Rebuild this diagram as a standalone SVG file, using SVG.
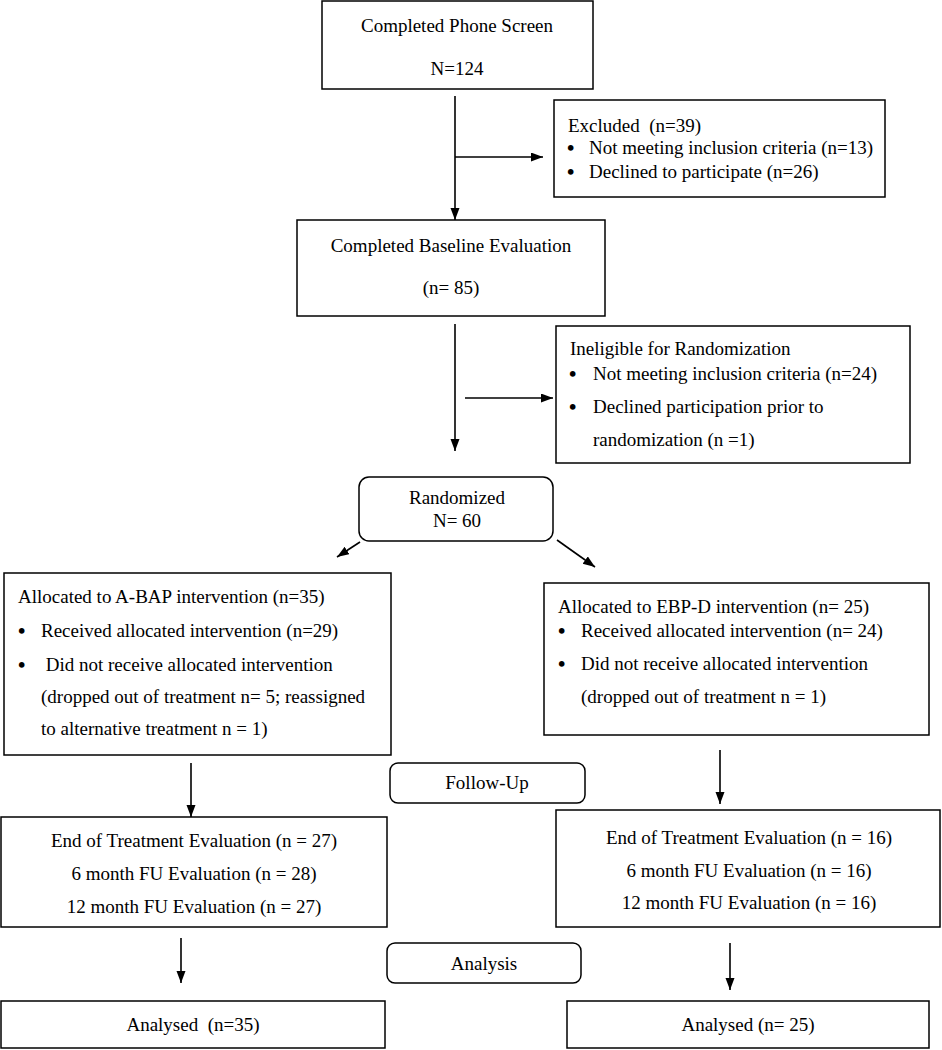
<svg xmlns="http://www.w3.org/2000/svg" width="942" height="1050" viewBox="0 0 942 1050">
<defs>
<style>
.box{fill:#fff;stroke:#000;stroke-width:1.5}
.t{font-family:"Liberation Serif","Times New Roman",serif;font-size:19px;fill:#000;white-space:pre}
.b{font-family:"Liberation Serif","Times New Roman",serif;font-size:21px;font-weight:bold;fill:#000}
.c{text-anchor:middle}
.ln{stroke:#000;stroke-width:1.6;fill:none;marker-end:url(#ah)}
</style>
<marker id="ah" markerUnits="userSpaceOnUse" markerWidth="12" markerHeight="10" refX="12" refY="4.5" orient="auto">
<path d="M0,0 L12,4.5 L0,9 z" fill="#000"/>
</marker>
</defs>
<rect width="942" height="1050" fill="#fff"/>
<g id="connectors">
<line class="ln" x1="455" y1="96" x2="455" y2="220"/>
<line class="ln" x1="455" y1="157" x2="543" y2="157"/>
<line class="ln" x1="455" y1="324" x2="455" y2="451"/>
<line class="ln" x1="465" y1="398" x2="553" y2="398"/>
<line class="ln" x1="360" y1="542" x2="337" y2="557"/>
<line class="ln" x1="557" y1="540" x2="595" y2="567"/>
<line class="ln" x1="191" y1="763" x2="191" y2="817"/>
<line class="ln" x1="720" y1="750" x2="720" y2="804"/>
<line class="ln" x1="181" y1="938" x2="181" y2="983"/>
<line class="ln" x1="730" y1="943" x2="730" y2="990"/>
</g>
<g id="phone">
<rect class="box" x="322" y="1" width="271" height="88"/>
<text class="t c" x="457" y="32">Completed Phone Screen</text>
<text class="t c" x="457" y="75">N=124</text>
</g>
<g id="excluded">
<rect class="box" x="554" y="100" width="331" height="97"/>
<text class="t" x="568" y="132" xml:space="preserve">Excluded  (n=39)</text>
<text class="b" x="567" y="155">•</text>
<text class="t" x="589" y="154">Not meeting inclusion criteria (n=13)</text>
<text class="b" x="567" y="179">•</text>
<text class="t" x="589" y="178">Declined to participate (n=26)</text>
</g>
<g id="baseline">
<rect class="box" x="297" y="220" width="308" height="96"/>
<text class="t c" x="451" y="252">Completed Baseline Evaluation</text>
<text class="t c" x="451" y="294">(n= 85)</text>
</g>
<g id="ineligible">
<rect class="box" x="556" y="326" width="354" height="137"/>
<text class="t" x="570" y="355">Ineligible for Randomization</text>
<text class="b" x="569" y="381">•</text>
<text class="t" x="593" y="380">Not meeting inclusion criteria (n=24)</text>
<text class="b" x="569" y="414">•</text>
<text class="t" x="593" y="413">Declined participation prior to</text>
<text class="t" x="593" y="446">randomization (n =1)</text>
</g>
<g id="randomized">
<rect class="box" x="359" y="477" width="194" height="64" rx="10"/>
<text class="t c" x="457" y="504">Randomized</text>
<text class="t c" x="457" y="527">N= 60</text>
</g>
<g id="abap">
<rect class="box" x="4" y="573" width="387" height="182"/>
<text class="t" x="18" y="603">Allocated to A-BAP intervention (n=35)</text>
<text class="b" x="18" y="638">•</text>
<text class="t" x="41" y="637">Received allocated intervention (n=29)</text>
<text class="b" x="18" y="672">•</text>
<text class="t" x="41" y="671" xml:space="preserve"> Did not receive allocated intervention</text>
<text class="t" x="41" y="703">(dropped out of treatment n= 5; reassigned</text>
<text class="t" x="41" y="735">to alternative treatment n = 1)</text>
</g>
<g id="ebpd">
<rect class="box" x="544" y="583" width="385" height="152"/>
<text class="t" x="558" y="613">Allocated to EBP-D intervention (n= 25)</text>
<text class="b" x="558" y="638">•</text>
<text class="t" x="581" y="637">Received allocated intervention (n= 24)</text>
<text class="b" x="558" y="671">•</text>
<text class="t" x="581" y="670">Did not receive allocated intervention</text>
<text class="t" x="581" y="703">(dropped out of treatment n = 1)</text>
</g>
<g id="followup">
<rect class="box" x="390" y="763" width="195" height="40" rx="8"/>
<text class="t c" x="487" y="789">Follow-Up</text>
</g>
<g id="eot-left">
<rect class="box" x="1" y="817" width="386" height="110"/>
<text class="t c" x="194" y="847">End of Treatment Evaluation (n = 27)</text>
<text class="t c" x="194" y="880">6 month FU Evaluation (n = 28)</text>
<text class="t c" x="194" y="913">12 month FU Evaluation (n = 27)</text>
</g>
<g id="eot-right">
<rect class="box" x="556" y="810" width="384" height="117"/>
<text class="t c" x="749" y="844">End of Treatment Evaluation (n = 16)</text>
<text class="t c" x="749" y="877">6 month FU Evaluation (n = 16)</text>
<text class="t c" x="749" y="909">12 month FU Evaluation (n = 16)</text>
</g>
<g id="analysis">
<rect class="box" x="387" y="943" width="194" height="40" rx="8"/>
<text class="t c" x="484" y="970">Analysis</text>
</g>
<g id="analysed-left">
<rect class="box" x="1" y="1001" width="384" height="47"/>
<text class="t c" x="193" y="1031" xml:space="preserve">Analysed  (n=35)</text>
</g>
<g id="analysed-right">
<rect class="box" x="567" y="1001" width="362" height="47"/>
<text class="t c" x="748" y="1031">Analysed (n= 25)</text>
</g>
</svg>
